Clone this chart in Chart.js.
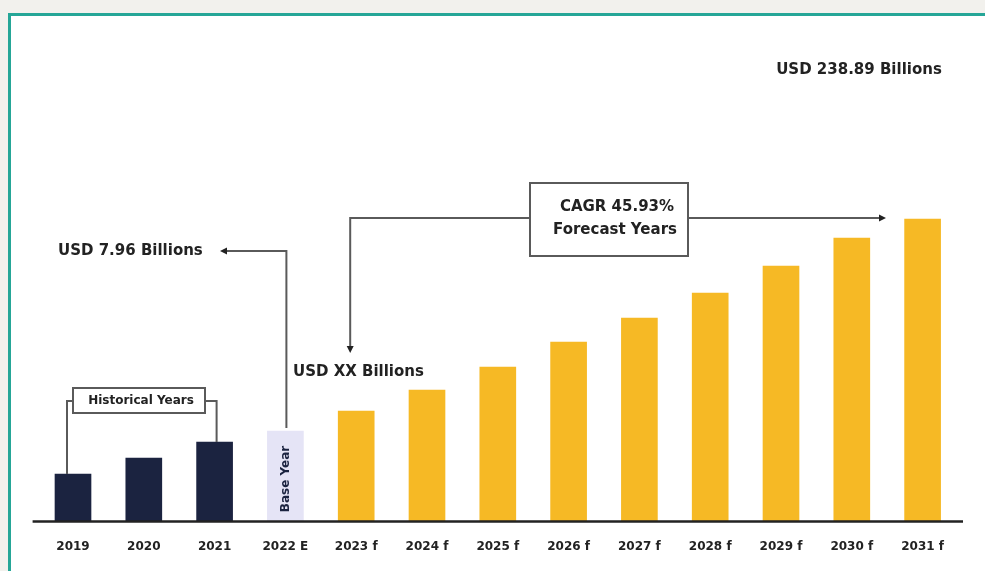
<!DOCTYPE html>
<html>
<head>
<meta charset="utf-8">
<script src="https://cdn.jsdelivr.net/npm/chart.js@4.4.0/dist/chart.umd.min.js"></script>
<style>
  html, body { margin: 0; padding: 0; background: #f2f1ed; }
  #wrap { width: 985px; height: 571px; position: relative; }
</style>
</head>
<body>
<div id="wrap"><canvas id="cht-market" width="985" height="571"></canvas></div>
<script>
var years = ['2019', '2020', '2021', '2022 E', '2023 f', '2024 f', '2025 f', '2026 f', '2027 f', '2028 f', '2029 f', '2030 f', '2031 f'];
var marketSize = [47, 63, 79, 90, 110, 131, 154, 179, 203, 228, 255, 283, 302];
var periods = ['hist', 'hist', 'hist', 'base', 'fc', 'fc', 'fc', 'fc', 'fc', 'fc', 'fc', 'fc', 'fc'];
var colours = { hist: '#1b2340', base: '#e5e4f6', fc: '#f6b925' };

var FONT = '"DejaVu Sans", sans-serif';

function arrow(ctx, x, y, dir) {
    ctx.beginPath();
    if (dir == 'left') { ctx.moveTo(x, y); ctx.lineTo(x + 7, y - 3.5); ctx.lineTo(x + 7, y + 3.5); }
    if (dir == 'right') { ctx.moveTo(x, y); ctx.lineTo(x - 7, y - 3.5); ctx.lineTo(x - 7, y + 3.5); }
    if (dir == 'down') { ctx.moveTo(x, y); ctx.lineTo(x - 3.5, y - 7); ctx.lineTo(x + 3.5, y - 7); }
    ctx.closePath();
    ctx.fill();
}

var frame = {
    id: 'frame',
    beforeDraw: function (chart) {
        var ctx = chart.ctx;
        ctx.save();
        ctx.fillStyle = '#f2f1ed';
        ctx.fillRect(0, 0, chart.width, chart.height);
        ctx.fillStyle = '#ffffff';
        ctx.fillRect(9, 14, chart.width, chart.height);
        ctx.strokeStyle = '#25a697';
        ctx.lineWidth = 3;
        ctx.beginPath();
        ctx.moveTo(9.5, chart.height + 5);
        ctx.lineTo(9.5, 14.5);
        ctx.lineTo(chart.width + 5, 14.5);
        ctx.stroke();
        ctx.restore();
    },
    afterDraw: function (chart) {
        var ctx = chart.ctx;
        var x = chart.scales.x, y = chart.scales.y;
        var a = chart.chartArea;
        var cx = function (i) { return x.getPixelForValue(i); };
        var top = function (i) { return y.getPixelForValue(marketSize[i]); };

        ctx.save();
        // axis line
        ctx.strokeStyle = '#222';
        ctx.lineWidth = 2.5;
        ctx.beginPath();
        ctx.moveTo(a.left - 5, a.bottom + 0.5);
        ctx.lineTo(a.right + 5, a.bottom + 0.5);
        ctx.stroke();

        // base year text in bar
        ctx.fillStyle = '#1b2340';
        ctx.font = 'bold 12px ' + FONT;
        ctx.textAlign = 'center';
        ctx.textBaseline = 'middle';
        ctx.save();
        ctx.translate(cx(3), a.bottom - 42);
        ctx.rotate(-Math.PI / 2);
        ctx.fillText('Base Year', 0, 0);
        ctx.restore();

        ctx.strokeStyle = '#5a5a5a';
        ctx.fillStyle = '#222';
        ctx.lineWidth = 2;

        // historical years bracket
        ctx.beginPath();
        ctx.moveTo(cx(0) - 6, top(0));
        ctx.lineTo(cx(0) - 6, 401);
        ctx.lineTo(73, 401);
        ctx.moveTo(205, 401);
        ctx.lineTo(cx(2) + 2, 401);
        ctx.lineTo(cx(2) + 2, top(2));
        ctx.stroke();
        ctx.strokeRect(73, 388, 132, 25);
        ctx.font = 'bold 12px ' + FONT;
        ctx.fillText('Historical Years', 141, 401);

        // base year value
        ctx.beginPath();
        ctx.moveTo(cx(3) + 1, top(3) - 3);
        ctx.lineTo(cx(3) + 1, 251);
        ctx.lineTo(226, 251);
        ctx.stroke();
        arrow(ctx, 220, 251, 'left');
        ctx.font = 'bold 15px ' + FONT;
        ctx.textAlign = 'left';
        ctx.fillText('USD 7.96 Billions', 58, 251);

        // CAGR box
        ctx.strokeRect(530, 183, 158, 73);
        ctx.beginPath();
        ctx.moveTo(530, 218);
        ctx.lineTo(cx(4) - 6, 218);
        ctx.lineTo(cx(4) - 6, 347);
        ctx.moveTo(688, 218);
        ctx.lineTo(879, 218);
        ctx.stroke();
        arrow(ctx, cx(4) - 6, 353, 'down');
        arrow(ctx, 886, 218, 'right');
        ctx.textAlign = 'center';
        ctx.fillText('CAGR 45.93%', 617, 207);
        ctx.fillText('Forecast Years', 615, 230);

        ctx.textAlign = 'left';
        ctx.fillText('USD XX Billions', 293, 372);
        ctx.textAlign = 'center';
        ctx.fillText('USD 238.89 Billions', 859, 70);
        ctx.restore();
    }
};

var chI = document.getElementById('cht-market');
var chtMarket = new Chart(chI, {
    type: 'bar',
    data: {
        labels: years,
        datasets: [{
            data: marketSize,
            backgroundColor: periods.map(function (p) { return colours[p]; }),
            barThickness: 36,
            borderWidth: 0
        }]
    },
    options: {
        responsive: false,
        animation: false,
        devicePixelRatio: 1,
        layout: { padding: { left: 37.6, right: 27, top: 21, bottom: 0 } },
        plugins: { legend: { display: false }, tooltip: { enabled: false } },
        scales: {
            y: { display: false, min: 0, max: 500 },
            x: {
                grid: { display: false, drawTicks: false },
                border: { display: false },
                ticks: { color: '#222', padding: 19, font: { family: FONT, weight: 'bold', size: 12 } },
                afterFit: function (s) { s.height = 50; }
            }
        }
    },
    plugins: [frame]
});
</script>
</body>
</html>
